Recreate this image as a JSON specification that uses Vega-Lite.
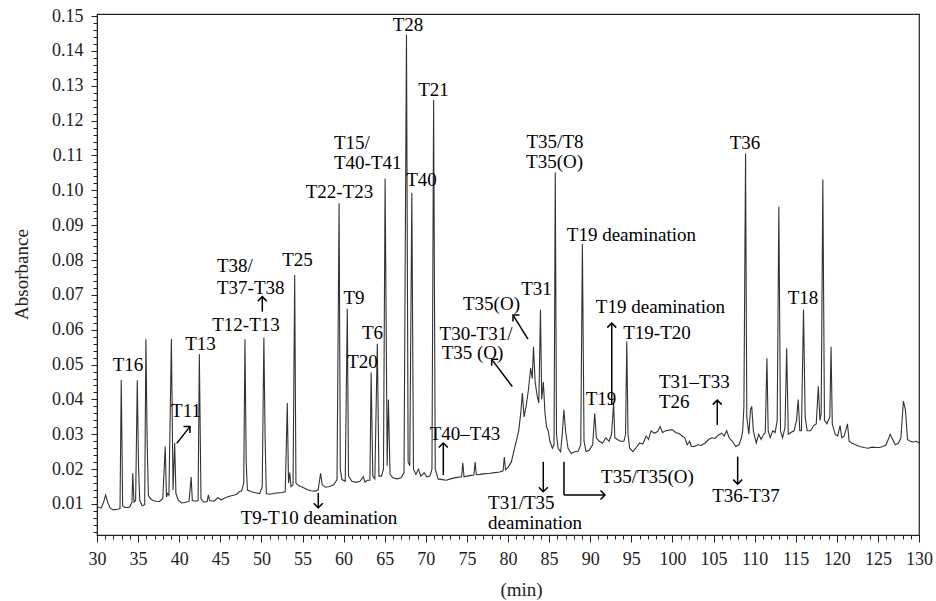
{
"$schema": "https://vega.github.io/schema/vega-lite/v6.json",
"width": 822, "height": 521,
"autosize": {"type": "none"},
"padding": {"left": 97, "top": 14, "right": 17, "bottom": 66},
"background": "white",
"config": {"view": {"stroke": "#222", "strokeWidth": 1.2}, "font": "Liberation Serif, Times New Roman, serif"},
"datasets": {
"trace": [
{"t":30.0,"a":0.0092},{"t":30.5,"a":0.0088},{"t":30.8,"a":0.0105},{"t":31.05,"a":0.0126},{"t":31.3,"a":0.0105},{"t":31.6,"a":0.0088},{"t":32.0,"a":0.0083},{"t":32.5,"a":0.0085},{"t":32.8,"a":0.0087},{"t":32.95,"a":0.0456},{"t":33.12,"a":0.0095},{"t":33.4,"a":0.009},{"t":33.8,"a":0.009},{"t":34.0,"a":0.0092},{"t":34.25,"a":0.0105},{"t":34.35,"a":0.0188},{"t":34.5,"a":0.0105},{"t":34.7,"a":0.011},{"t":34.9,"a":0.0455},{"t":35.05,"a":0.0207},{"t":35.2,"a":0.011},{"t":35.5,"a":0.0095},{"t":35.8,"a":0.0098},{"t":35.95,"a":0.0573},{"t":36.1,"a":0.028},{"t":36.25,"a":0.0125},{"t":36.5,"a":0.0115},{"t":36.8,"a":0.011},{"t":37.2,"a":0.0108},{"t":37.6,"a":0.0107},{"t":38.0,"a":0.0115},{"t":38.3,"a":0.0265},{"t":38.45,"a":0.012},{"t":38.6,"a":0.013},{"t":38.75,"a":0.0125},{"t":39.05,"a":0.0574},{"t":39.25,"a":0.014},{"t":39.45,"a":0.0275},{"t":39.6,"a":0.013},{"t":39.9,"a":0.011},{"t":40.3,"a":0.0103},{"t":40.8,"a":0.0105},{"t":41.2,"a":0.0108},{"t":41.45,"a":0.0177},{"t":41.6,"a":0.011},{"t":42.0,"a":0.0108},{"t":42.3,"a":0.011},{"t":42.45,"a":0.053},{"t":42.65,"a":0.0115},{"t":43.0,"a":0.0105},{"t":43.4,"a":0.0107},{"t":43.55,"a":0.0126},{"t":43.7,"a":0.011},{"t":44.2,"a":0.0108},{"t":44.7,"a":0.0118},{"t":45.1,"a":0.0112},{"t":45.6,"a":0.0118},{"t":46.1,"a":0.0122},{"t":46.6,"a":0.0125},{"t":47.0,"a":0.0128},{"t":47.3,"a":0.0135},{"t":47.6,"a":0.0138},{"t":47.85,"a":0.016},{"t":48.0,"a":0.0573},{"t":48.15,"a":0.022},{"t":48.3,"a":0.014},{"t":48.8,"a":0.0135},{"t":49.3,"a":0.0132},{"t":49.8,"a":0.013},{"t":50.1,"a":0.015},{"t":50.3,"a":0.0578},{"t":50.45,"a":0.029},{"t":50.6,"a":0.013},{"t":51.0,"a":0.0128},{"t":51.5,"a":0.013},{"t":52.0,"a":0.0132},{"t":52.5,"a":0.0133},{"t":52.9,"a":0.0135},{"t":53.15,"a":0.039},{"t":53.3,"a":0.016},{"t":53.45,"a":0.019},{"t":53.6,"a":0.015},{"t":53.85,"a":0.0155},{"t":54.05,"a":0.0757},{"t":54.2,"a":0.016},{"t":54.5,"a":0.0153},{"t":55.0,"a":0.0148},{"t":55.5,"a":0.0142},{"t":56.0,"a":0.0138},{"t":56.5,"a":0.0137},{"t":56.9,"a":0.014},{"t":57.2,"a":0.0188},{"t":57.4,"a":0.0155},{"t":57.8,"a":0.0148},{"t":58.3,"a":0.015},{"t":58.8,"a":0.0155},{"t":59.2,"a":0.017},{"t":59.45,"a":0.0963},{"t":59.6,"a":0.02},{"t":59.8,"a":0.017},{"t":60.2,"a":0.0165},{"t":60.45,"a":0.066},{"t":60.6,"a":0.018},{"t":61.0,"a":0.0165},{"t":61.5,"a":0.0162},{"t":62.0,"a":0.0165},{"t":62.4,"a":0.0178},{"t":62.6,"a":0.0163},{"t":62.9,"a":0.0168},{"t":63.2,"a":0.0168},{"t":63.35,"a":0.0477},{"t":63.55,"a":0.018},{"t":63.8,"a":0.0172},{"t":64.1,"a":0.056},{"t":64.3,"a":0.018},{"t":64.6,"a":0.018},{"t":64.85,"a":0.02},{"t":65.05,"a":0.1034},{"t":65.3,"a":0.021},{"t":65.45,"a":0.04},{"t":65.65,"a":0.0185},{"t":66.0,"a":0.0175},{"t":66.5,"a":0.0172},{"t":67.0,"a":0.0175},{"t":67.35,"a":0.019},{"t":67.65,"a":0.1447},{"t":67.85,"a":0.022},{"t":68.05,"a":0.021},{"t":68.3,"a":0.0993},{"t":68.5,"a":0.02},{"t":68.8,"a":0.0185},{"t":69.1,"a":0.02},{"t":69.4,"a":0.018},{"t":69.8,"a":0.019},{"t":70.1,"a":0.0178},{"t":70.5,"a":0.018},{"t":70.75,"a":0.02},{"t":70.95,"a":0.1259},{"t":71.15,"a":0.02},{"t":71.5,"a":0.0172},{"t":72.0,"a":0.017},{"t":72.5,"a":0.0168},{"t":73.0,"a":0.0172},{"t":73.5,"a":0.0175},{"t":74.0,"a":0.0177},{"t":74.35,"a":0.0178},{"t":74.5,"a":0.0218},{"t":74.65,"a":0.0178},{"t":75.0,"a":0.018},{"t":75.5,"a":0.0182},{"t":75.85,"a":0.0183},{"t":76.0,"a":0.022},{"t":76.15,"a":0.0184},{"t":76.6,"a":0.0185},{"t":77.2,"a":0.0187},{"t":77.8,"a":0.0188},{"t":78.4,"a":0.019},{"t":79.0,"a":0.0192},{"t":79.4,"a":0.0195},{"t":79.55,"a":0.0235},{"t":79.7,"a":0.0198},{"t":80.0,"a":0.0205},{"t":80.4,"a":0.022},{"t":80.8,"a":0.026},{"t":81.05,"a":0.0284},{"t":81.3,"a":0.031},{"t":81.55,"a":0.036},{"t":81.75,"a":0.0418},{"t":81.95,"a":0.035},{"t":82.2,"a":0.038},{"t":82.5,"a":0.043},{"t":82.75,"a":0.049},{"t":82.95,"a":0.046},{"t":83.1,"a":0.0551},{"t":83.3,"a":0.045},{"t":83.55,"a":0.041},{"t":83.75,"a":0.039},{"t":83.95,"a":0.0657},{"t":84.1,"a":0.04},{"t":84.3,"a":0.045},{"t":84.5,"a":0.036},{"t":84.7,"a":0.032},{"t":84.9,"a":0.031},{"t":85.1,"a":0.028},{"t":85.4,"a":0.026},{"t":85.6,"a":0.027},{"t":85.75,"a":0.1052},{"t":85.9,"a":0.03},{"t":86.1,"a":0.026},{"t":86.4,"a":0.025},{"t":86.6,"a":0.03},{"t":86.8,"a":0.037},{"t":87.0,"a":0.031},{"t":87.3,"a":0.026},{"t":87.7,"a":0.0245},{"t":88.1,"a":0.025},{"t":88.5,"a":0.025},{"t":88.85,"a":0.027},{"t":89.05,"a":0.0846},{"t":89.25,"a":0.028},{"t":89.5,"a":0.025},{"t":89.9,"a":0.0255},{"t":90.3,"a":0.027},{"t":90.55,"a":0.036},{"t":90.75,"a":0.029},{"t":91.1,"a":0.028},{"t":91.5,"a":0.0275},{"t":91.9,"a":0.029},{"t":92.3,"a":0.028},{"t":92.6,"a":0.03},{"t":92.85,"a":0.039},{"t":93.0,"a":0.029},{"t":93.3,"a":0.0285},{"t":93.7,"a":0.028},{"t":94.1,"a":0.028},{"t":94.3,"a":0.03},{"t":94.45,"a":0.0566},{"t":94.6,"a":0.03},{"t":94.8,"a":0.026},{"t":95.2,"a":0.025},{"t":95.6,"a":0.0262},{"t":96.0,"a":0.0275},{"t":96.4,"a":0.0272},{"t":96.8,"a":0.0295},{"t":97.1,"a":0.0285},{"t":97.4,"a":0.031},{"t":97.8,"a":0.0303},{"t":98.2,"a":0.0308},{"t":98.5,"a":0.0322},{"t":98.8,"a":0.0305},{"t":99.2,"a":0.031},{"t":99.6,"a":0.0312},{"t":100.0,"a":0.0313},{"t":100.4,"a":0.0305},{"t":100.8,"a":0.0302},{"t":101.2,"a":0.0295},{"t":101.5,"a":0.029},{"t":101.8,"a":0.027},{"t":102.1,"a":0.028},{"t":102.3,"a":0.0265},{"t":102.7,"a":0.0265},{"t":103.1,"a":0.027},{"t":103.5,"a":0.0268},{"t":104.0,"a":0.0275},{"t":104.4,"a":0.0285},{"t":104.8,"a":0.029},{"t":105.2,"a":0.0288},{"t":105.6,"a":0.0298},{"t":106.0,"a":0.0303},{"t":106.3,"a":0.0295},{"t":106.6,"a":0.031},{"t":106.9,"a":0.029},{"t":107.3,"a":0.028},{"t":107.7,"a":0.0265},{"t":108.1,"a":0.027},{"t":108.4,"a":0.029},{"t":108.55,"a":0.031},{"t":108.7,"a":0.038},{"t":108.9,"a":0.1106},{"t":109.05,"a":0.035},{"t":109.3,"a":0.03},{"t":109.5,"a":0.037},{"t":109.65,"a":0.038},{"t":109.85,"a":0.031},{"t":110.2,"a":0.0275},{"t":110.5,"a":0.03},{"t":110.8,"a":0.0285},{"t":111.1,"a":0.03},{"t":111.3,"a":0.0305},{"t":111.5,"a":0.0518},{"t":111.65,"a":0.031},{"t":111.9,"a":0.029},{"t":112.2,"a":0.031},{"t":112.5,"a":0.0305},{"t":112.75,"a":0.034},{"t":112.95,"a":0.0953},{"t":113.15,"a":0.031},{"t":113.4,"a":0.029},{"t":113.7,"a":0.032},{"t":113.9,"a":0.0547},{"t":114.1,"a":0.03},{"t":114.4,"a":0.0305},{"t":114.8,"a":0.031},{"t":115.1,"a":0.034},{"t":115.3,"a":0.04},{"t":115.5,"a":0.031},{"t":115.7,"a":0.031},{"t":115.95,"a":0.0657},{"t":116.15,"a":0.035},{"t":116.4,"a":0.031},{"t":116.8,"a":0.031},{"t":117.2,"a":0.0325},{"t":117.5,"a":0.033},{"t":117.75,"a":0.0438},{"t":117.95,"a":0.034},{"t":118.1,"a":0.036},{"t":118.3,"a":0.1031},{"t":118.5,"a":0.034},{"t":118.8,"a":0.033},{"t":119.15,"a":0.035},{"t":119.3,"a":0.0551},{"t":119.45,"a":0.033},{"t":119.8,"a":0.03},{"t":120.1,"a":0.0295},{"t":120.4,"a":0.0325},{"t":120.6,"a":0.029},{"t":120.9,"a":0.0295},{"t":121.3,"a":0.033},{"t":121.5,"a":0.028},{"t":121.8,"a":0.0275},{"t":122.3,"a":0.027},{"t":122.8,"a":0.0265},{"t":123.3,"a":0.0262},{"t":123.8,"a":0.026},{"t":124.3,"a":0.0263},{"t":124.8,"a":0.0262},{"t":125.2,"a":0.0262},{"t":125.6,"a":0.0265},{"t":126.0,"a":0.027},{"t":126.5,"a":0.03},{"t":126.8,"a":0.0285},{"t":127.1,"a":0.027},{"t":127.5,"a":0.0275},{"t":127.8,"a":0.029},{"t":128.1,"a":0.0395},{"t":128.35,"a":0.037},{"t":128.6,"a":0.0285},{"t":128.9,"a":0.028},{"t":129.3,"a":0.0278},{"t":129.7,"a":0.028},{"t":130.0,"a":0.0275}
],
"labelsC": [
{"x":33.77,"y":0.0499,"text":"T16"},{"x":40.83,"y":0.0367,"text":"T11"},{"x":42.59,"y":0.0558,"text":"T13"},{"x":48.13,"y":0.0613,"text":"T12-T13"},{"x":54.39,"y":0.08,"text":"T25"},{"x":61.27,"y":0.0692,"text":"T9"},{"x":63.52,"y":0.0592,"text":"T6"},{"x":62.3,"y":0.0506,"text":"T20"},{"x":59.5,"y":0.0994,"text":"T22-T23"},{"x":67.83,"y":0.1474,"text":"T28"},{"x":70.94,"y":0.1288,"text":"T21"},{"x":69.48,"y":0.1029,"text":"T40"},{"x":85.72,"y":0.1138,"text":"T35/T8"},{"x":85.66,"y":0.1081,"text":"T35(O)"},{"x":95.02,"y":0.0873,"text":"T19 deamination"},{"x":83.47,"y":0.0718,"text":"T31"},{"x":77.99,"y":0.0675,"text":"T35(O)"},{"x":76.11,"y":0.0589,"text":"T30-T31/"},{"x":75.68,"y":0.0532,"text":"T35 (O)"},{"x":74.77,"y":0.0302,"text":"T40–T43"},{"x":57.01,"y":0.0061,"text":"T9-T10 deamination"},{"x":96.97,"y":0.0176,"text":"T35/T35(O)"},{"x":91.31,"y":0.0401,"text":"T19"},{"x":98.55,"y":0.0664,"text":"T19 deamination"},{"x":98.13,"y":0.0592,"text":"T19-T20"},{"x":108.95,"y":0.0123,"text":"T36-T37"},{"x":108.83,"y":0.1137,"text":"T36"},{"x":115.89,"y":0.0692,"text":"T18"}
],
"labelsL": [
{"x":44.6,"y":0.0783,"text":"T38/"},{"x":44.6,"y":0.0721,"text":"T37-T38"},{"x":58.83,"y":0.1136,"text":"T15/"},{"x":58.83,"y":0.1078,"text":"T40-T41"},{"x":77.57,"y":0.0103,"text":"T31/T35"},{"x":77.57,"y":0.0046,"text":"deamination"},{"x":98.37,"y":0.0451,"text":"T31–T33"},{"x":98.37,"y":0.0394,"text":"T26"}
],
"shafts": [
{"x1":39.7,"y1":0.0274,"x2":41.31,"y2":0.0322},
{"x1":50.11,"y1":0.0652,"x2":50.11,"y2":0.0695},
{"x1":56.92,"y1":0.0132,"x2":56.92,"y2":0.0089},
{"x1":72.13,"y1":0.0183,"x2":72.13,"y2":0.0275},
{"x1":82.43,"y1":0.0573,"x2":80.61,"y2":0.0642},
{"x1":80.52,"y1":0.0437,"x2":78.02,"y2":0.0515},
{"x1":84.29,"y1":0.0221,"x2":84.29,"y2":0.0135},
{"x1":86.81,"y1":0.0221,"x2":86.81,"y2":0.0126},
{"x1":86.81,"y1":0.0126,"x2":91.8,"y2":0.0126},
{"x1":92.62,"y1":0.0384,"x2":92.62,"y2":0.0619},
{"x1":105.46,"y1":0.0327,"x2":105.46,"y2":0.0398},
{"x1":107.94,"y1":0.0236,"x2":107.94,"y2":0.0157}
],
"headsUp": [{"x":50.11,"y":0.0695},{"x":72.13,"y":0.0275},{"x":92.62,"y":0.0619},{"x":105.46,"y":0.0398}],
"headsDown": [{"x":56.92,"y":0.0089},{"x":84.29,"y":0.0135},{"x":107.94,"y":0.0157}],
"headsRight": [{"x":91.8,"y":0.0126}],
"headsUL": [{"x":80.61,"y":0.0642},{"x":78.02,"y":0.0515}],
"headsUR": [{"x":41.31,"y":0.0322}]
},
"layer": [
{"data": {"name": "trace"}, "mark": {"type": "line", "stroke": "#333", "strokeWidth": 1.1},
 "encoding": {
  "x": {"field": "t", "type": "quantitative", "scale": {"domain": [30, 130], "nice": false, "zero": false},
   "axis": {"orient": "bottom", "values": [30,35,40,45,50,55,60,65,70,75,80,85,90,95,100,105,110,115,120,125,130], "grid": false, "tickSize": 7, "tickColor": "#222", "domainColor": "#222", "labelFont": "Liberation Serif, Times New Roman, serif", "labelFontSize": 18, "labelColor": "#222", "labelPadding": 8, "labelFlush": false,
    "title": "(min)", "titleFont": "Liberation Serif, Times New Roman, serif", "titleFontSize": 19, "titleFontWeight": "normal", "titleColor": "#222", "titleX": 424, "titleY": 60, "titleBaseline": "alphabetic", "titleAlign": "center"}},
  "y": {"field": "a", "type": "quantitative", "scale": {"domain": [0.0011, 0.1506], "nice": false, "zero": false},
   "axis": {"orient": "left", "values": [0.01,0.02,0.03,0.04,0.05,0.06,0.07,0.08,0.09,0.1,0.11,0.12,0.13,0.14,0.15], "format": ".2f", "grid": false, "tickSize": 6, "tickColor": "#222", "domainColor": "#222", "labelFont": "Liberation Serif, Times New Roman, serif", "labelFontSize": 18, "labelColor": "#222", "labelPadding": 8, "labelFlush": false,
    "title": "Absorbance", "titleFont": "Liberation Serif, Times New Roman, serif", "titleFontSize": 19, "titleFontWeight": "normal", "titleColor": "#222", "titleX": -70, "titleY": 260, "titleAngle": -90, "titleBaseline": "alphabetic", "titleAlign": "center"}}
 }},
{"data": {"name": "shafts"}, "mark": {"type": "rule", "stroke": "black", "strokeWidth": 1.5},
 "encoding": {
  "x": {"field": "x1", "type": "quantitative", "axis": {"orient": "bottom", "values": [30,31,32,33,34,35,36,37,38,39,40,41,42,43,44,45,46,47,48,49,50,51,52,53,54,55,56,57,58,59,60,61,62,63,64,65,66,67,68,69,70,71,72,73,74,75,76,77,78,79,80,81,82,83,84,85,86,87,88,89,90,91,92,93,94,95,96,97,98,99,100,101,102,103,104,105,106,107,108,109,110,111,112,113,114,115,116,117,118,119,120,121,122,123,124,125,126,127,128,129,130], "labels": false, "domain": false, "grid": false, "tickSize": 4, "tickColor": "#222", "title": null}},
  "y": {"field": "y1", "type": "quantitative", "axis": {"orient": "left", "values": [0.002,0.004,0.006,0.008,0.010,0.012,0.014,0.016,0.018,0.020,0.022,0.024,0.026,0.028,0.030,0.032,0.034,0.036,0.038,0.040,0.042,0.044,0.046,0.048,0.050,0.052,0.054,0.056,0.058,0.060,0.062,0.064,0.066,0.068,0.070,0.072,0.074,0.076,0.078,0.080,0.082,0.084,0.086,0.088,0.090,0.092,0.094,0.096,0.098,0.100,0.102,0.104,0.106,0.108,0.110,0.112,0.114,0.116,0.118,0.120,0.122,0.124,0.126,0.128,0.130,0.132,0.134,0.136,0.138,0.140,0.142,0.144,0.146,0.148,0.150], "labels": false, "domain": false, "grid": false, "tickSize": 4, "tickColor": "#222", "title": null}},
  "x2": {"field": "x2"}, "y2": {"field": "y2"}
 }},
{"data": {"name": "headsUp"}, "mark": {"type": "point", "shape": "M-0.9,0.9L0,0L0.9,0.9", "filled": false, "stroke": "black", "strokeWidth": 1.5, "size": 100, "opacity": 1},
 "encoding": {"x": {"field": "x", "type": "quantitative", "axis": null}, "y": {"field": "y", "type": "quantitative", "axis": null}}},
{"data": {"name": "headsDown"}, "mark": {"type": "point", "shape": "M-0.9,-0.9L0,0L0.9,-0.9", "filled": false, "stroke": "black", "strokeWidth": 1.5, "size": 100, "opacity": 1},
 "encoding": {"x": {"field": "x", "type": "quantitative", "axis": null}, "y": {"field": "y", "type": "quantitative", "axis": null}}},
{"data": {"name": "headsRight"}, "mark": {"type": "point", "shape": "M-0.9,-0.9L0,0L-0.9,0.9", "filled": false, "stroke": "black", "strokeWidth": 1.5, "size": 100, "opacity": 1},
 "encoding": {"x": {"field": "x", "type": "quantitative", "axis": null}, "y": {"field": "y", "type": "quantitative", "axis": null}}},
{"data": {"name": "headsUL"}, "mark": {"type": "point", "shape": "M1.3,0L0,0L0,1.3", "filled": false, "stroke": "black", "strokeWidth": 1.5, "size": 100, "opacity": 1},
 "encoding": {"x": {"field": "x", "type": "quantitative", "axis": null}, "y": {"field": "y", "type": "quantitative", "axis": null}}},
{"data": {"name": "headsUR"}, "mark": {"type": "point", "shape": "M-1.3,0L0,0L0,1.3", "filled": false, "stroke": "black", "strokeWidth": 1.5, "size": 100, "opacity": 1},
 "encoding": {"x": {"field": "x", "type": "quantitative", "axis": null}, "y": {"field": "y", "type": "quantitative", "axis": null}}},
{"data": {"name": "labelsC"}, "mark": {"type": "text", "font": "Liberation Serif, Times New Roman, serif", "fontSize": 19, "color": "black", "align": "center", "baseline": "middle"},
 "encoding": {"x": {"field": "x", "type": "quantitative", "axis": null}, "y": {"field": "y", "type": "quantitative", "axis": null}, "text": {"field": "text"}}},
{"data": {"name": "labelsL"}, "mark": {"type": "text", "font": "Liberation Serif, Times New Roman, serif", "fontSize": 19, "color": "black", "align": "left", "baseline": "middle"},
 "encoding": {"x": {"field": "x", "type": "quantitative", "axis": null}, "y": {"field": "y", "type": "quantitative", "axis": null}, "text": {"field": "text"}}}
],
"resolve": {"axis": {"x": "independent", "y": "independent"}}
}
